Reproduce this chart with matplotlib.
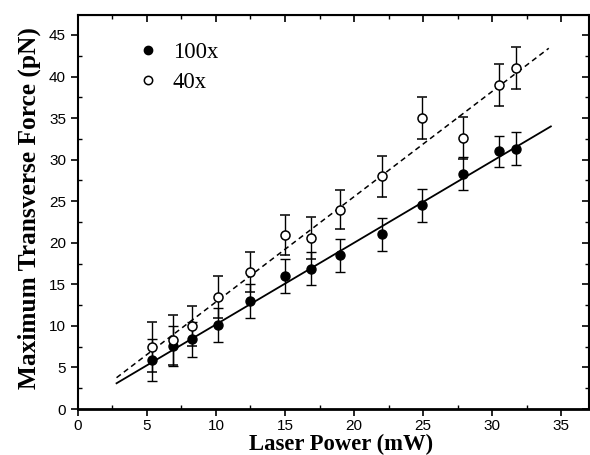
import numpy as np
import matplotlib
matplotlib.use("Agg")
import matplotlib.pyplot as plt
from matplotlib.ticker import MultipleLocator
from matplotlib.lines import Line2D

# 100x objective (filled)
power_100 = [5.4, 6.9, 8.25, 10.15, 12.5, 15.0, 16.9, 19.0, 22.0, 24.9, 27.9, 30.5, 31.7]
force_100 = [5.9, 7.6, 8.4, 10.1, 13.0, 16.0, 16.9, 18.5, 21.0, 24.5, 28.3, 31.0, 31.3]
err_100 = [2.5, 2.4, 2.1, 2.0, 2.0, 2.0, 2.0, 2.0, 2.0, 2.0, 2.0, 1.9, 2.0]

# 40x objective (open)
power_40 = [5.4, 6.9, 8.25, 10.15, 12.5, 15.0, 16.9, 19.0, 22.0, 24.9, 27.9, 30.5, 31.7]
force_40 = [7.5, 8.3, 10.0, 13.5, 16.5, 20.9, 20.6, 24.0, 28.0, 35.0, 32.6, 39.0, 41.0]
err_40 = [3.0, 3.0, 2.4, 2.5, 2.4, 2.4, 2.5, 2.4, 2.5, 2.5, 2.5, 2.5, 2.5]

# linear fits (end points)
fit_x = [2.8, 34.25]
fit_100 = [3.1, 34.0]
fit_x40 = [2.8, 34.1]
fit_40 = [3.77, 43.4]

fig = plt.figure(figsize=(5.9, 4.55), dpi=100)
ax = fig.add_axes([0.132, 0.101, 0.866, 0.866])

ax.plot(fit_x, fit_100, color="black", lw=1.3)
ax.plot(fit_x40, fit_40, color="black", lw=1.1, ls=(0, (3.5, 2.5)))

ax.errorbar(power_100, force_100, yerr=err_100, fmt="o", color="black",
            ms=6.5, capsize=3.5, elinewidth=1, capthick=1, zorder=3)
ax.errorbar(power_40, force_40, yerr=err_40, fmt="o", color="black", mfc="white",
            mew=1.1, ms=6.5, capsize=3.5, elinewidth=1, capthick=1, zorder=3)

ax.set_xlim(0, 37)
ax.set_ylim(0, 47.4)
ax.xaxis.set_major_locator(MultipleLocator(5))
ax.xaxis.set_minor_locator(MultipleLocator(2.5))
ax.yaxis.set_major_locator(MultipleLocator(5))
ax.yaxis.set_minor_locator(MultipleLocator(2.5))
ax.tick_params(which="major", direction="out", length=5, width=1.2, labelsize=11)
ax.tick_params(axis="x", which="major", pad=2.5)
ax.tick_params(which="minor", direction="in", length=3, width=1)
for lab in ax.get_xticklabels() + ax.get_yticklabels():
    lab.set_family("Liberation Sans")

top = ax.secondary_xaxis("top")
top.xaxis.set_major_locator(MultipleLocator(5))
top.xaxis.set_minor_locator(MultipleLocator(2.5))
top.tick_params(which="major", direction="in", length=5, width=1.2, labeltop=False)
top.tick_params(which="minor", direction="in", length=3, width=1)
right = ax.secondary_yaxis("right")
right.yaxis.set_major_locator(MultipleLocator(5))
right.yaxis.set_minor_locator(MultipleLocator(2.5))
right.tick_params(which="major", direction="in", length=5, width=1.2, labelright=False)
right.tick_params(which="minor", direction="in", length=3, width=1)

for s in ax.spines.values():
    s.set_linewidth(1.5)
ax.spines["bottom"].set_linewidth(2)

ax.set_xlabel("Laser Power (mW)", family="Liberation Serif", fontweight="bold",
              fontsize=16.3)
ax.xaxis.set_label_coords(0.515, -0.064)
ax.set_ylabel("Maximum Transverse Force (pN)", family="Liberation Serif",
              fontweight="bold", fontsize=18.3, labelpad=6)
ax.yaxis.label.set_y(0.511)

handles = [Line2D([], [], ls="none", marker="o", color="black", ms=6),
           Line2D([], [], ls="none", marker="o", color="black", mfc="white", mew=1.1, ms=6)]
ax.legend(handles, ["100x", "40x"], loc="upper left", bbox_to_anchor=(0.093, 0.96),
          frameon=False, prop={"family": "Liberation Serif", "size": 16.3},
          borderpad=0, handlelength=1.0, handletextpad=0.6, labelspacing=0.38)

fig.savefig("out.png", dpi=100)
